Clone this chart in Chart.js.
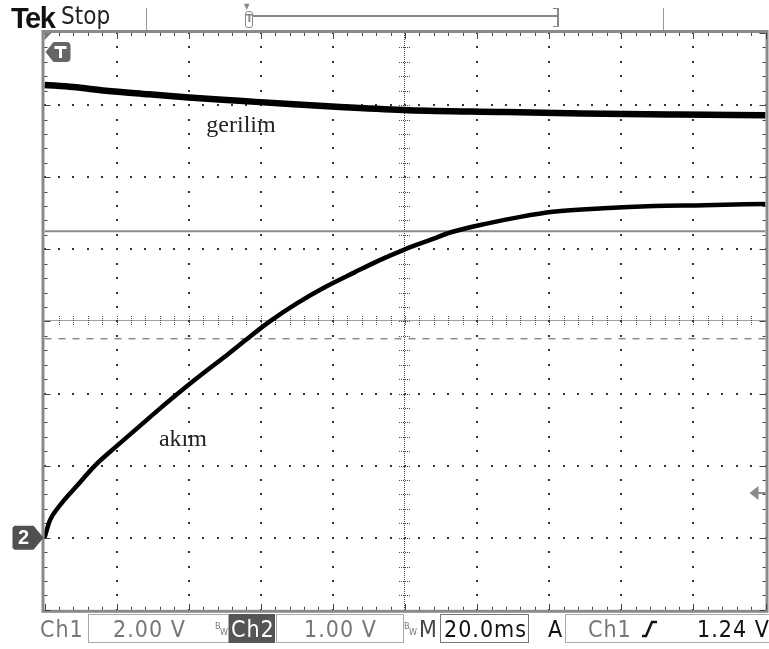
<!DOCTYPE html>
<html>
<head>
<meta charset="utf-8">
<script src="https://cdn.jsdelivr.net/npm/chart.js@4.4.1/dist/chart.umd.min.js"></script>
<style>
  html, body { margin: 0; padding: 0; background: #fff; }
  #scope { position: relative; width: 769px; height: 649px; overflow: hidden;
           font-family: "Liberation Sans Narrow", "DejaVu Sans Condensed", "Liberation Sans", sans-serif; }
  #scope canvas { position: absolute; left: 0; top: 0; }
  .t { position: absolute; white-space: nowrap; line-height: 1; }
  .ln { position: absolute; background: #999; }
  .box { position: absolute; top: 614px; height: 29px; border: 1px solid #aaa; box-sizing: border-box; }
  .rd { font-size: 23px; color: #777; top: 618px; letter-spacing: 1px; }
  .blk { color: #111; }
  .bw { position: absolute; font-size: 9px; color: #777; line-height: 1; }
</style>
</head>
<body>
<div id="scope">
  <canvas id="scopeChart" width="769" height="649"></canvas>

  <!-- status line -->
  <div class="t" style="left:11px;top:2px;font:bold 29px 'Liberation Sans Narrow','Liberation Sans',sans-serif;letter-spacing:-1.5px;color:#111">Tek</div>
  <div class="t" style="left:61px;top:4px;font-size:24px;color:#222">Stop</div>
  <div class="ln" style="left:146px;top:8px;width:1px;height:22px"></div>
  <div class="ln" style="left:663px;top:8px;width:1px;height:22px"></div>
  <div class="ln" style="left:252px;top:15px;width:306px;height:2px;background:#888"></div>
  <div class="ln" style="left:557px;top:8px;width:2px;height:19px;background:#888"></div>
  <div class="ln" style="left:553px;top:8px;width:5px;height:1px;background:#888"></div>
  <div class="ln" style="left:553px;top:26px;width:5px;height:1px;background:#888"></div>
  <div class="t" style="left:244px;top:3px;font-size:8px;color:#888">&#9660;</div>
  <div class="ln" style="left:245px;top:11px;width:8px;height:17px;background:#fff;border:1px solid #888;border-radius:3px;box-sizing:border-box"></div>
  <div class="t" style="left:246px;top:13px;font-size:11px;color:#888;font-weight:bold">T</div>

  <!-- readout line -->
  <div class="t rd" style="left:40px">Ch1</div>
  <div class="box" style="left:88px;width:141px"></div>
  <div class="t rd" style="left:113px">2.00 V</div>
  <div class="bw" style="left:215px;top:622px">B</div><div class="bw" style="left:220px;top:628px">W</div>
  <div class="box" style="left:229px;width:46px;background:#555;border-color:#555"></div>
  <div class="t rd" style="left:231px;color:#fff">Ch2</div>
  <div class="box" style="left:276px;width:128px"></div>
  <div class="t rd" style="left:304px">1.00 V</div>
  <div class="bw" style="left:404px;top:622px">B</div><div class="bw" style="left:409px;top:628px">W</div>
  <div class="t rd" style="left:419px;color:#444">M</div>
  <div class="box" style="left:440px;width:89px;border-color:#777"></div>
  <div class="t rd blk" style="left:444px">20.0ms</div>
  <div class="t rd blk" style="left:548px">A</div>
  <div class="box" style="left:565px;width:210px"></div>
  <div class="t rd" style="left:588px">Ch1</div>
  <svg style="position:absolute;left:641px;top:620px" width="18" height="18">
    <polyline points="1,16 5,16 11,2 16,2" fill="none" stroke="#111" stroke-width="2.5"/>
  </svg>
  <div class="t rd blk" style="left:697px">1.24 V</div>
</div>

<script>
// time base: 20 ms/div, 10 divisions
const timeTicks = [0, 20, 40, 60, 80, 100, 120, 140, 160, 180, 200];
// Ch2 volts at each horizontal graticule line (1 V/div, ground 3 div below centre)
const ch2Ticks = [-1, 0, 1, 2, 3, 4, 5, 6, 7];

// Ch1 - gerilim (V)
const gerilimTime = [0, 8, 17, 29, 40, 54, 68, 82, 101, 126, 149, 176, 200];
const gerilimVolt = [12.56, 12.50, 12.40, 12.30, 12.21, 12.12, 12.03, 11.95, 11.86, 11.81, 11.77, 11.74, 11.72];

// Ch2 - akım (V from current probe)
const akimTime = [0, 1.5, 4.3, 9, 14, 20, 26, 32, 37, 44, 50, 56, 62.5, 70, 78, 86, 93,
                  100, 107, 113, 123, 132, 141, 155, 169, 183, 200];
const akimVolt = [0, 0.24, 0.45, 0.72, 1.00, 1.27, 1.53, 1.79, 2.00, 2.28, 2.51, 2.75, 3.00, 3.25, 3.48, 3.68, 3.85,
                  4.00, 4.13, 4.24, 4.36, 4.45, 4.52, 4.57, 4.60, 4.61, 4.63];

// horizontal reference lines (Ch2 volts)
const refLevel = 4.25;
const cursorLevel = 2.76;
// trigger level on Ch1
const trigLevel = 1.24;

function pts(xs, ys) {
    return xs.map((t, i) => ({ x: t, y: ys[i] }));
}

// oscilloscope graticule: dotted grid, centre crosshair with ticks, framed border
const graticule = {
    id: 'graticule',
    beforeDatasetsDraw(chart) {
        const { ctx, chartArea: a, scales } = chart;
        const xs = timeTicks.map(v => scales.x.getPixelForValue(v));
        const ys = ch2Ticks.map(v => scales.y2.getPixelForValue(v));
        const divX = xs[1] - xs[0];
        const divY = ys[0] - ys[1];
        const cx = xs[5], cy = ys[4];
        ctx.save();
        ctx.fillStyle = '#333';

        // grid dots every 1/5 division
        for (let i = 1; i < xs.length - 1; i++) {
            if (i === 5) continue;
            for (let k = 0; k <= 40; k++) {
                const py = a.top + k * divY / 5;
                ctx.fillRect(Math.round(xs[i]) - 1, Math.round(py) - 1, 2, 2);
            }
        }
        for (let j = 1; j < ys.length - 1; j++) {
            if (j === 4) continue;
            for (let k = 0; k <= 50; k++) {
                const px = a.left + k * divX / 5;
                ctx.fillRect(Math.round(px) - 1, Math.round(ys[j]) - 1, 2, 2);
            }
        }

        // centre crosshair, fine dotted
        ctx.fillStyle = '#444';
        for (let px = a.left; px < a.right; px += 2) ctx.fillRect(px, Math.round(cy) - 1, 1, 1);
        for (let py = a.top; py < a.bottom; py += 2) ctx.fillRect(Math.round(cx) - 1, py, 1, 1);
        for (let k = 1; k < 50; k++) {
            const px = Math.round(a.left + k * divX / 5);
            for (let d = -4; d <= 4; d += 2) ctx.fillRect(px, Math.round(cy) - 1 + d, 1, 1);
        }
        for (let k = 1; k < 40; k++) {
            const py = Math.round(a.top + k * divY / 5);
            for (let d = -5; d <= 5; d += 2) ctx.fillRect(Math.round(cx) - 1 + d, py, 1, 1);
        }

        // frame with tick marks
        ctx.strokeStyle = '#8a8a8a';
        ctx.lineWidth = 3;
        ctx.strokeRect(a.left - 1.5, a.top - 1.5, a.right - a.left + 3, a.bottom - a.top + 3);
        ctx.fillStyle = '#444';
        for (let k = 0; k <= 50; k++) {
            const px = Math.round(a.left + k * divX / 5);
            const len = k % 5 === 0 ? 6 : 3;
            ctx.fillRect(px, a.top, 1, len);
            ctx.fillRect(px, a.bottom - len, 1, len);
        }
        for (let k = 0; k <= 40; k++) {
            const py = Math.round(a.top + k * divY / 5);
            const len = k % 5 === 0 ? 6 : 3;
            ctx.fillRect(a.left, py, len, 1);
            ctx.fillRect(a.right - len, py, len, 1);
        }
        ctx.restore();
    },
    afterDraw(chart) {
        const { ctx, chartArea: a, scales } = chart;
        ctx.save();

        // corner mark
        ctx.fillStyle = '#777';
        ctx.beginPath();
        ctx.moveTo(a.left, a.top); ctx.lineTo(a.left + 7, a.top); ctx.lineTo(a.left, a.top + 7);
        ctx.closePath(); ctx.fill();

        // trigger position flag
        const tx = a.left + 1, ty = a.top + 9;
        ctx.fillStyle = '#666';
        ctx.beginPath();
        ctx.moveTo(tx, ty + 10);
        ctx.lineTo(tx + 8, ty);
        ctx.lineTo(tx + 21, ty);
        ctx.quadraticCurveTo(tx + 25, ty, tx + 25, ty + 4);
        ctx.lineTo(tx + 25, ty + 16);
        ctx.quadraticCurveTo(tx + 25, ty + 20, tx + 21, ty + 20);
        ctx.lineTo(tx + 8, ty + 20);
        ctx.closePath(); ctx.fill();
        ctx.fillStyle = '#fff';
        ctx.fillRect(tx + 9, ty + 4, 12, 3);
        ctx.fillRect(tx + 13.5, ty + 4, 3, 12);

        // Ch2 ground marker
        const gy = scales.y2.getPixelForValue(0);
        const gx = a.left - 1;
        ctx.fillStyle = '#505050';
        ctx.beginPath();
        ctx.moveTo(gx, gy);
        ctx.lineTo(gx - 10, gy - 12);
        ctx.lineTo(gx - 29, gy - 12);
        ctx.lineTo(gx - 31, gy - 10);
        ctx.lineTo(gx - 31, gy + 10);
        ctx.lineTo(gx - 29, gy + 12);
        ctx.lineTo(gx - 10, gy + 12);
        ctx.closePath(); ctx.fill();
        ctx.fillStyle = '#fff';
        ctx.font = 'bold 20px "Liberation Sans", sans-serif';
        ctx.textAlign = 'center';
        ctx.textBaseline = 'middle';
        ctx.fillText('2', gx - 20, gy + 1);

        // trigger level arrow
        const ly = scales.y1.getPixelForValue(trigLevel);
        ctx.fillStyle = '#8a8a8a';
        ctx.beginPath();
        ctx.moveTo(a.right - 16, ly);
        ctx.lineTo(a.right - 7, ly - 7);
        ctx.lineTo(a.right - 7, ly + 7);
        ctx.closePath(); ctx.fill();
        ctx.fillRect(a.right - 8, ly - 1, 8, 2);

        // trace names
        ctx.fillStyle = '#222';
        ctx.font = '24px "Liberation Serif", serif';
        ctx.fillText('gerilim', scales.x.getPixelForValue(54.5), scales.y1.getPixelForValue(11.42));
        ctx.fillText('akım', scales.x.getPixelForValue(38.4), scales.y2.getPixelForValue(1.355));
        ctx.restore();
    }
};

new Chart(document.getElementById('scopeChart'), {
    type: 'line',
    data: {
        datasets: [
            {
                label: 'gerilim',
                data: pts(gerilimTime, gerilimVolt),
                yAxisID: 'y1',
                borderColor: '#000',
                borderWidth: 6.5,
                pointRadius: 0,
                cubicInterpolationMode: 'monotone'
            },
            {
                label: 'akım',
                data: pts(akimTime, akimVolt),
                yAxisID: 'y2',
                borderColor: '#000',
                borderWidth: 4.5,
                pointRadius: 0,
                cubicInterpolationMode: 'monotone'
            },
            {
                label: 'ref',
                data: [{ x: 0, y: refLevel }, { x: 200, y: refLevel }],
                yAxisID: 'y2',
                borderColor: '#8a8a8a',
                borderWidth: 2,
                pointRadius: 0
            },
            {
                label: 'cursor',
                data: [{ x: 0, y: cursorLevel }, { x: 200, y: cursorLevel }],
                yAxisID: 'y2',
                borderColor: '#8a8a8a',
                borderWidth: 1.5,
                borderDash: [7, 7],
                pointRadius: 0
            }
        ]
    },
    options: {
        responsive: false,
        animation: false,
        events: [],
        layout: { padding: { left: 44.5, top: 33, right: 3.5, bottom: 39.2 } },
        scales: {
            x: { type: 'linear', min: 0, max: 200, display: false },
            y1: { type: 'linear', min: -2, max: 14, display: false },
            y2: { type: 'linear', min: -1, max: 7, display: false }
        },
        plugins: {
            legend: { display: false },
            tooltip: { enabled: false }
        }
    },
    plugins: [graticule]
});
</script>
</body>
</html>
